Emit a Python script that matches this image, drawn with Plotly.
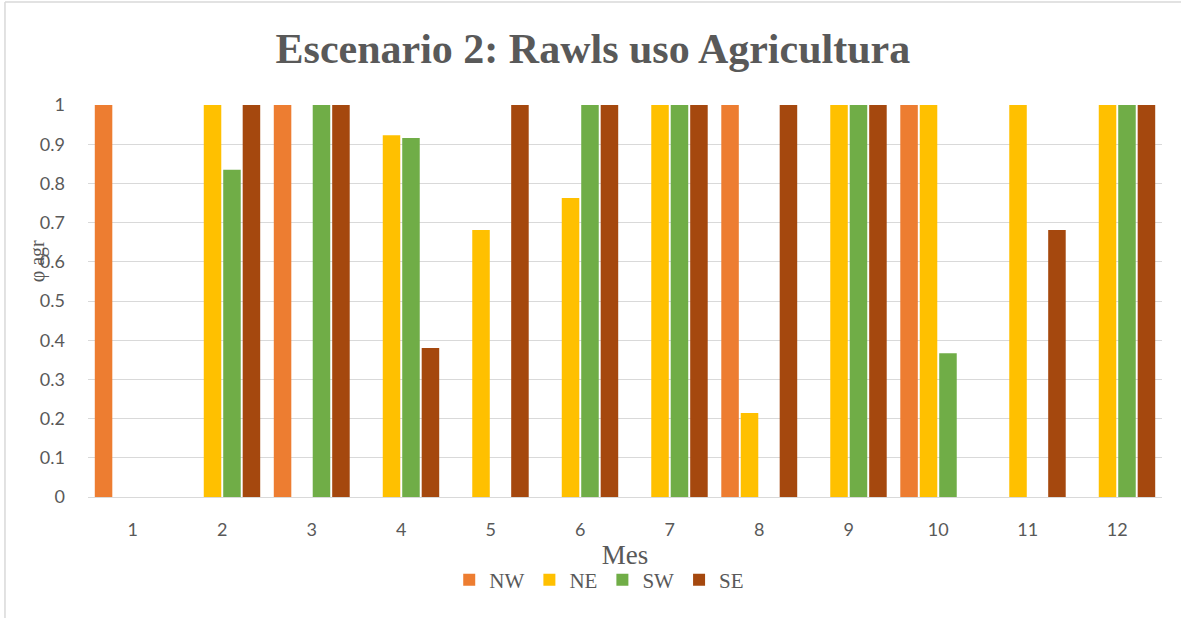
import plotly.graph_objects as go

months = [str(m) for m in range(1, 13)]
nw = [1, 0, 1, 0, 0, 0, 0, 1, 0, 1, 0, 0]
ne = [0, 1, 0, 0.923, 0.681, 0.763, 1, 0.214, 1, 1, 1, 1]
sw = [0, 0.835, 1, 0.916, 0, 1, 1, 0, 1, 0.367, 0, 1]
se = [0, 1, 1, 0.380, 1, 1, 1, 1, 1, 0, 0.681, 1]

series = [("NW", nw, "#ED7D31"), ("NE", ne, "#FFC000"),
          ("SW", sw, "#70AD47"), ("SE", se, "#A5480E")]

GRAY = "#595959"
SERIF = "Liberation Serif, Times New Roman, serif"
SANS = "Lato, Carlito, Liberation Sans, sans-serif"

fig = go.Figure()
for name, vals, color in series:
    fig.add_trace(go.Bar(x=months, y=vals, name=name,
                         marker=dict(color=color, line=dict(width=0))))

fig.update_layout(
    width=1181, height=618,
    margin=dict(l=88, r=19, t=105, b=121),
    paper_bgcolor="white", plot_bgcolor="white",
    barmode="group", bargap=0.13, bargroupgap=0.1,
    title=dict(text="<b>Escenario 2: Rawls uso Agricultura</b>",
               x=0.502, xanchor="center", y=0.922, yanchor="middle",
               font=dict(family=SERIF, size=42, color=GRAY)),
    legend=dict(orientation="h", x=0.476, xanchor="center",
                y=-0.212, yanchor="middle",
                font=dict(family=SERIF, size=21, color=GRAY),
                itemwidth=30, tracegroupgap=0),
    showlegend=True,
)

fig.update_xaxes(
    type="category", showgrid=False, ticks="",
    showline=True, linecolor="#d9d9d9", linewidth=1,
    ticklabelstandoff=16,
    tickfont=dict(family=SANS, size=18, color=GRAY),
    title=dict(text="Mes", font=dict(family=SERIF, size=27, color=GRAY),
               standoff=6),
)
fig.update_yaxes(
    range=[0, 1.0], dtick=0.1, tickformat="~g",
    showgrid=True, gridcolor="#d9d9d9", gridwidth=1,
    zeroline=False, showline=False, ticks="",
    ticklabelstandoff=22,
    tickfont=dict(family=SANS, size=18, color=GRAY),
)

# y-axis title placed over the tick labels
fig.add_annotation(text="φ agr", textangle=-90, xref="paper", yref="paper",
                   x=-0.047, y=0.6, xanchor="center", yanchor="middle",
                   showarrow=False,
                   font=dict(family=SERIF, size=20, color=GRAY))

# chart frame
fig.add_shape(type="line", xref="paper", yref="paper",
              x0=-0.0773, x1=-0.0773, y0=1.263, y1=-0.31,
              line=dict(color="#d9d9d9", width=1.5))
fig.add_shape(type="line", xref="paper", yref="paper",
              x0=-0.0773, x1=1.02, y0=1.263, y1=1.263,
              line=dict(color="#d9d9d9", width=1.5))

fig.write_html("out.html")
